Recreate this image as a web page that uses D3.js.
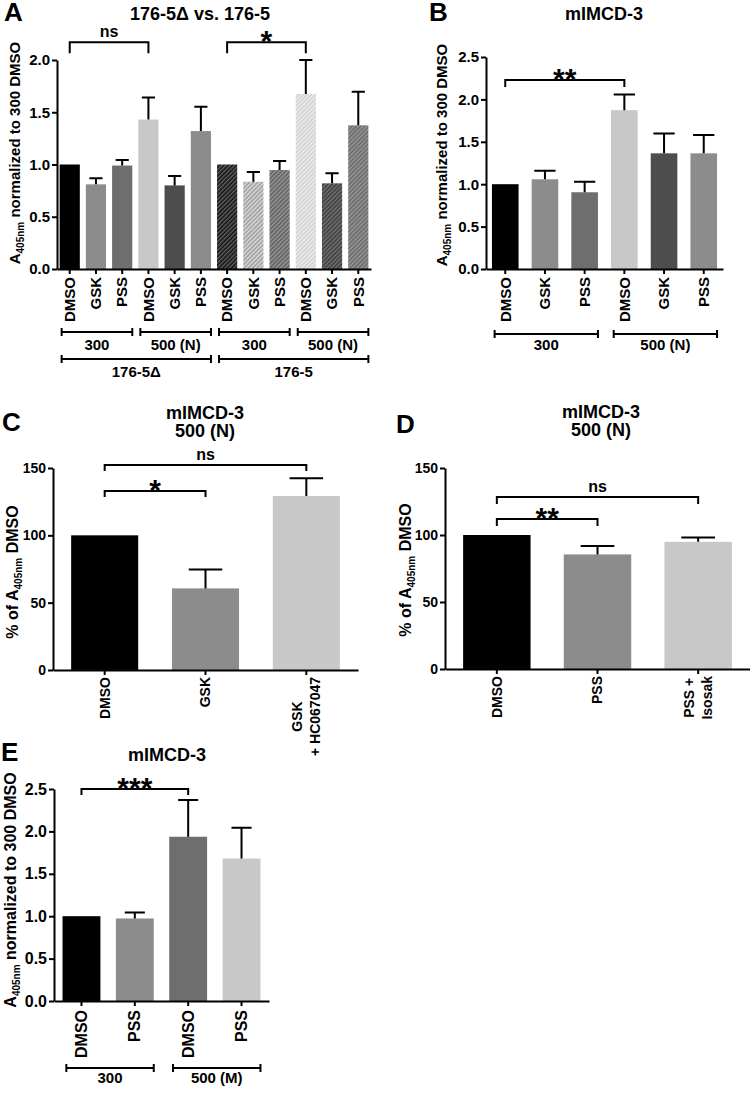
<!DOCTYPE html>
<html>
<head>
<meta charset="utf-8">
<script src="https://cdn.jsdelivr.net/npm/d3@7"></script>
<style>
  body { margin: 0; background: #fff; }
  svg { display: block; font-family: "Liberation Sans", Arial, sans-serif; font-weight: bold; }
</style>
</head>
<body>
<div id="chart"></div>
<script>
// =====================
// DATA
// =====================
// A : 176-5Δ vs. 176-5
const aLabels = ["DMSO", "GSK", "PSS", "DMSO", "GSK", "PSS", "DMSO", "GSK", "PSS", "DMSO", "GSK", "PSS"];
const aMeans = [1.0, 0.81, 0.99, 1.43, 0.80, 1.32, 1.0, 0.835, 0.947, 1.675, 0.82, 1.375];
const aSem = [0, 0.058, 0.054, 0.21, 0.09, 0.233, 0, 0.093, 0.086, 0.325, 0.096, 0.322];
const aTicks = [0, 0.5, 1.0, 1.5, 2.0];
const aSig = [[0, 3, "ns"], [6, 9, "*"]];
const aGroups1 = [[0, 2, "300"], [3, 5, "500 (N)"], [6, 8, "300"], [9, 11, "500 (N)"]];
const aGroups2 = [[0, 5, "176-5Δ"], [6, 11, "176-5"]];

// B : mIMCD-3
const bLabels = ["DMSO", "GSK", "PSS", "DMSO", "GSK", "PSS"];
const bMeans = [1.0, 1.058, 0.905, 1.873, 1.364, 1.364];
const bSem = [0, 0.101, 0.125, 0.184, 0.235, 0.215];
const bTicks = [0, 0.5, 1.0, 1.5, 2.0, 2.5];
const bSig = [[0, 3, "**"]];
const bGroups = [[0, 2, "300"], [3, 5, "500 (N)"]];

// C : mIMCD-3 500 (N)
const cLabels = ["DMSO", "GSK", "GSK\n+ HC067047"];
const cMeans = [100, 60.6, 129.2];
const cSem = [0, 14.1, 13.1];
const cTicks = [0, 50, 100, 150];
const cSig = [[0, 1, "*"], [0, 2, "ns"]];

// D : mIMCD-3 500 (N)
const dLabels = ["DMSO", "PSS", "PSS +\nIsosak"];
const dMeans = [100, 85.5, 94.9];
const dSem = [0, 6.2, 3.3];
const dTicks = [0, 50, 100, 150];
const dSig = [[0, 1, "**"], [0, 2, "ns"]];

// E : mIMCD-3
const eLabels = ["DMSO", "PSS", "DMSO", "PSS"];
const eMeans = [1.0, 0.973, 1.937, 1.68];
const eSem = [0, 0.071, 0.433, 0.363];
const eTicks = [0, 0.5, 1.0, 1.5, 2.0, 2.5];
const eSig = [[0, 2, "***"]];
const eGroups = [[0, 1, "300"], [2, 3, "500 (M)"]];

const width = 750;
const height = 1096;

const svg = d3.select("#chart")
  .append("svg")
  .attr("width", width)
  .attr("height", height);

const defs = svg.append("defs");
let patternCount = 0;

// diagonal hatching "///"
function hatch(base, stripe) {
  const id = "hatch" + (patternCount++);
  const p = defs.append("pattern")
    .attr("id", id)
    .attr("patternUnits", "userSpaceOnUse")
    .attr("width", 3)
    .attr("height", 3)
    .attr("patternTransform", "rotate(45)");
  p.append("rect").attr("width", 3).attr("height", 3).attr("fill", base);
  p.append("line")
    .attr("x1", 0.75).attr("y1", 0)
    .attr("x2", 0.75).attr("y2", 3)
    .attr("stroke", stripe)
    .attr("stroke-width", 1.3);
  return `url(#${id})`;
}

// =====================
// PANEL
// =====================
function drawPanel(cfg) {
  const g = svg.append("g");
  const n = cfg.means.length;

  const x = d3.scaleBand()
    .domain(d3.range(n))
    .range([cfg.left, cfg.right])
    .paddingInner(cfg.pi)
    .paddingOuter(cfg.po);

  const y = d3.scaleLinear()
    .domain([0, cfg.yMax])
    .range([cfg.y0, cfg.yTop]);

  const bw = x.bandwidth();

  // bars
  g.selectAll(".bar")
    .data(cfg.means)
    .join("rect")
    .attr("x", (d, i) => x(i))
    .attr("y", d => y(d))
    .attr("width", bw)
    .attr("height", d => cfg.y0 - y(d))
    .attr("fill", (d, i) => cfg.fills[i]);

  // y axis
  const yAxis = g.append("g")
    .attr("transform", `translate(${cfg.left},0)`)
    .call(d3.axisLeft(y)
      .tickValues(cfg.ticks)
      .tickFormat(d3.format(cfg.fmt))
      .tickSize(5)
      .tickSizeOuter(0)
      .tickPadding(2));

  // x axis
  const xAxis = g.append("g")
    .attr("transform", `translate(0,${cfg.y0})`)
    .call(d3.axisBottom(x)
      .tickFormat("")
      .tickSize(5)
      .tickSizeOuter(0));

  [yAxis, xAxis].forEach(ax => {
    ax.select(".domain").attr("stroke", "#000").attr("stroke-width", 2);
    ax.selectAll(".tick line").attr("stroke", "#000").attr("stroke-width", 2);
  });
  yAxis.selectAll(".tick text")
    .attr("fill", "#000")
    .style("font-size", cfg.tickFont + "px")
    .style("font-family", "Liberation Sans, Arial, sans-serif")
    .style("font-weight", "bold");

  // x labels, rotated
  cfg.labels.forEach((lab, i) => {
    const lines = lab.split("\n");
    const cx = x(i) + bw / 2;
    const texts = lines.map((line, k) => {
      const off = (k - (lines.length - 1) / 2) * 18;
      return g.append("text")
        .attr("transform", `translate(${cx + off},${cfg.y0 + cfg.labelOffset}) rotate(-90)`)
        .attr("text-anchor", "end")
        .attr("dy", "0.35em")
        .style("font-size", cfg.labelFont + "px")
        .text(line);
    });
    if (texts.length > 1) {
      const lens = texts.map(t => t.node().getComputedTextLength());
      const maxLen = d3.max(lens);
      texts.forEach((t, k) => t.attr("x", -(maxLen - lens[k]) / 2));
    }
  });

  // error bars (upper only)
  cfg.means.forEach((m, i) => {
    const s = cfg.sem[i];
    if (!s) return;
    const cx = x(i) + bw / 2;
    const capW = bw * cfg.cap;
    g.append("path")
      .attr("d", `M${cx},${y(m)}V${y(m + s)}M${cx - capW / 2},${y(m + s)}H${cx + capW / 2}`)
      .attr("fill", "none")
      .attr("stroke", "#000")
      .attr("stroke-width", 2);
  });

  // significance brackets
  cfg.sig.forEach((s, k) => {
    const [a, b, label] = s;
    const yl = y(cfg.sigLevels[k]);
    const xa = x(a) + bw / 2;
    const xb = x(b) + bw / 2;
    g.append("path")
      .attr("d", `M${xa},${yl + cfg.sigLeg}V${yl}H${xb}V${yl + cfg.sigLeg}`)
      .attr("fill", "none")
      .attr("stroke", "#000")
      .attr("stroke-width", 2);
    const star = label.includes("*");
    g.append("text")
      .attr("x", (xa + xb) / 2)
      .attr("y", star ? yl + 9 : yl - 5)
      .attr("text-anchor", "middle")
      .style("font-size", star ? "30px" : "16px")
      .text(label);
  });

  // group brackets below the axis
  (cfg.groupRows || []).forEach(row => {
    row.groups.forEach(gr => {
      const [a, b, label] = gr;
      const x1 = x(a) + bw * 0.1;
      const x2 = x(b) + bw;
      g.append("path")
        .attr("d", `M${x1},${row.y - 4}V${row.y + 4}M${x1},${row.y}H${x2}M${x2},${row.y - 4}V${row.y + 4}`)
        .attr("fill", "none")
        .attr("stroke", "#000")
        .attr("stroke-width", 2);
      g.append("text")
        .attr("x", (x1 + x2) / 2)
        .attr("y", row.labelY)
        .attr("text-anchor", "middle")
        .style("font-size", "15px")
        .text(label);
    });
  });

  // title lines
  cfg.title.forEach((t, k) => {
    g.append("text")
      .attr("x", cfg.titleX)
      .attr("y", cfg.titleY + k * 18)
      .attr("text-anchor", "middle")
      .style("font-size", "18px")
      .text(t);
  });

  // panel letter
  g.append("text")
    .attr("x", cfg.letterX)
    .attr("y", cfg.letterY)
    .style("font-size", "26px")
    .text(cfg.letter);

  // y label with subscript
  const yl = g.append("text")
    .attr("transform", `translate(${cfg.ylabX},${cfg.ylabY}) rotate(-90)`)
    .attr("text-anchor", "middle")
    .style("font-size", cfg.ylabFont + "px");
  yl.append("tspan").text(cfg.ylabPre);
  yl.append("tspan").attr("dy", 4).style("font-size", "10px").text("405nm");
  yl.append("tspan").attr("dy", -4).text(cfg.ylabPost);
}

// =====================
// COLOURS
// =====================
const black = "#000000";
const mid = "#8c8c8c";
const midDark = "#6e6e6e";
const light = "#c8c8c8";
const dark = "#4d4d4d";

drawPanel({
  letter: "A", letterX: 4, letterY: 21,
  title: ["176-5Δ vs. 176-5"], titleX: 200, titleY: 20,
  means: aMeans, sem: aSem, labels: aLabels,
  fills: [black, mid, midDark, light, dark, mid,
    hatch("#111", "#6a6a6a"), hatch("#9a9a9a", "#e6e6e6"), hatch("#5e5e5e", "#9e9e9e"),
    hatch("#cfcfcf", "#f2f2f2"), hatch("#3a3a3a", "#7c7c7c"), hatch("#666", "#a0a0a0")],
  left: 57, right: 371, pi: 0.23, po: 0.1,
  y0: 269, yTop: 60, yMax: 2, ticks: aTicks, fmt: ".1f",
  tickFont: 15, labelFont: 15, labelOffset: 8, cap: 0.65,
  sig: aSig, sigLevels: [2.17, 2.17], sigLeg: 11,
  groupRows: [{ y: 332, labelY: 350, groups: aGroups1 }, { y: 359, labelY: 377, groups: aGroups2 }],
  ylabX: 20, ylabY: 153, ylabFont: 15, ylabPre: "A", ylabPost: " normalized to 300 DMSO"
});

drawPanel({
  letter: "B", letterX: 429, letterY: 21,
  title: ["mIMCD-3"], titleX: 604, titleY: 20,
  means: bMeans, sem: bSem, labels: bLabels,
  fills: [black, mid, midDark, light, dark, mid],
  left: 486, right: 723, pi: 0.33, po: 0.15,
  y0: 269, yTop: 57, yMax: 2.5, ticks: bTicks, fmt: ".1f",
  tickFont: 15, labelFont: 15, labelOffset: 8, cap: 0.8,
  sig: bSig, sigLevels: [2.23], sigLeg: 7,
  groupRows: [{ y: 334, labelY: 350, groups: bGroups }],
  ylabX: 447, ylabY: 155, ylabFont: 15, ylabPre: "A", ylabPost: " normalized to 300 DMSO"
});

drawPanel({
  letter: "C", letterX: 2, letterY: 431,
  title: ["mIMCD-3", "500 (N)"], titleX: 205, titleY: 419,
  means: cMeans, sem: cSem, labels: cLabels,
  fills: [black, mid, light],
  left: 53, right: 358, pi: 0.335, po: 0.18,
  y0: 670, yTop: 468, yMax: 150, ticks: cTicks, fmt: "d",
  tickFont: 14, labelFont: 14, labelOffset: 7, cap: 0.5,
  sig: cSig, sigLevels: [132.9, 152.2], sigLeg: 6,
  ylabX: 18, ylabY: 572, ylabFont: 16, ylabPre: "% of A", ylabPost: " DMSO"
});

drawPanel({
  letter: "D", letterX: 396, letterY: 433,
  title: ["mIMCD-3", "500 (N)"], titleX: 601, titleY: 418,
  means: dMeans, sem: dSem, labels: dLabels,
  fills: [black, mid, light],
  left: 445, right: 750, pi: 0.33, po: 0.18,
  y0: 669, yTop: 468, yMax: 150, ticks: dTicks, fmt: "d",
  tickFont: 14, labelFont: 14, labelOffset: 7, cap: 0.5,
  sig: dSig, sigLevels: [111.9, 128.4], sigLeg: 7,
  ylabX: 411, ylabY: 570, ylabFont: 16, ylabPre: "% of A", ylabPost: " DMSO"
});

drawPanel({
  letter: "E", letterX: 1, letterY: 761,
  title: ["mIMCD-3"], titleX: 167, titleY: 761,
  means: eMeans, sem: eSem, labels: eLabels,
  fills: [black, mid, midDark, light],
  left: 54, right: 269, pi: 0.29, po: 0.16,
  y0: 1001, yTop: 789, yMax: 2.5, ticks: eTicks, fmt: ".1f",
  tickFont: 16, labelFont: 16, labelOffset: 9, cap: 0.53,
  sig: eSig, sigLevels: [2.5], sigLeg: 6,
  groupRows: [{ y: 1068, labelY: 1083, groups: eGroups }],
  ylabX: 16, ylabY: 890, ylabFont: 16, ylabPre: "A", ylabPost: " normalized to 300 DMSO"
});
</script>
</body>
</html>
